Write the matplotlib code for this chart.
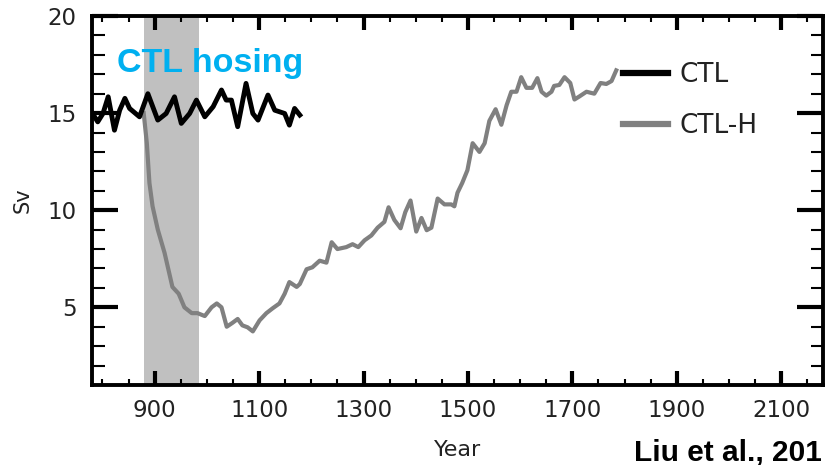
import matplotlib.pyplot as plt
from matplotlib.ticker import MultipleLocator

# control run, AMOC strength (Sv)
ctl_years = [781, 791, 801, 811, 823, 833, 843, 852, 871, 887, 906, 922, 938, 951,
             967, 980, 996, 1012, 1028, 1037, 1047, 1059, 1075, 1088, 1098, 1117,
             1130, 1139, 1149, 1158, 1168, 1178]
ctl_sv = [14.98, 14.55, 14.98, 15.84, 14.12, 15.15, 15.76, 15.24, 14.81, 16.0, 14.64,
          14.98, 15.84, 14.47, 14.98, 15.67, 14.81, 15.33, 16.19, 15.67, 15.67, 14.3,
          16.53, 14.98, 14.64, 15.93, 15.15, 15.07, 14.98, 14.38, 15.24, 14.9]

# hosing run
hosed_years = [879, 885, 890, 896, 906, 919, 934, 946, 957, 971, 982, 996, 1009, 1019,
               1028, 1038, 1049, 1059, 1068, 1078, 1088, 1101, 1114, 1126, 1139, 1149,
               1158, 1172, 1178, 1191, 1202, 1216, 1229, 1239, 1250, 1267, 1279, 1290,
               1302, 1315, 1327, 1340, 1348, 1359, 1371, 1380, 1390, 1401, 1411, 1421,
               1430, 1442, 1455, 1468, 1474, 1480, 1489, 1499, 1509, 1522, 1532, 1541,
               1553, 1564, 1574, 1583, 1593, 1602, 1612, 1623, 1633, 1641, 1650, 1660,
               1665, 1675, 1685, 1696, 1704, 1713, 1727, 1742, 1754, 1765, 1775, 1784]
hosed_sv = [15.0, 13.45, 11.4, 10.2, 9.0, 7.8, 6.05, 5.7, 5.0, 4.7, 4.7, 4.55, 5.0, 5.2,
            5.0, 4.0, 4.2, 4.4, 4.07, 3.97, 3.76, 4.33, 4.7, 4.95, 5.2, 5.7,
            6.3, 6.05, 6.2, 6.96, 7.06, 7.4, 7.3, 8.35, 8.0, 8.1, 8.25, 8.1,
            8.45, 8.7, 9.1, 9.4, 10.15, 9.5, 9.07, 9.9, 10.5, 8.9, 9.6, 8.97,
            9.1, 10.6, 10.3, 10.3, 10.2, 10.9, 11.4, 12.06, 13.45, 13.0, 13.45, 14.6,
            15.2, 14.4, 15.4, 16.1, 16.1, 16.85, 16.3, 16.3, 16.8, 16.1, 15.9, 16.1,
            16.4, 16.45, 16.85, 16.55, 15.7, 15.85, 16.1, 16.0, 16.55, 16.5, 16.65, 17.2]

hosing_start, hosing_end = 880, 984
xticks = [900, 1100, 1300, 1500, 1700, 1900, 2100]
yticks = [5, 10, 15, 20]

fig = plt.figure(figsize=(8.31, 4.65), dpi=100)
ax = fig.add_axes([92/831, 1 - 385/465, (823 - 92)/831, (385 - 16)/465])

ax.axvspan(hosing_start, hosing_end, color='#c0c0c0', lw=0, zorder=1)
ax.plot(hosed_years, hosed_sv, color='#808080', lw=3, label='CTL-H', zorder=2,
        solid_joinstyle='round')
ax.plot(ctl_years, ctl_sv, color='black', lw=3.5, label='CTL', zorder=3,
        solid_joinstyle='round')

ax.set_xlim(780, 2180)
ax.set_ylim(1, 20)
ax.set_xticks(xticks)
ax.set_yticks(yticks)
ax.xaxis.set_minor_locator(MultipleLocator(50))
ax.yaxis.set_minor_locator(MultipleLocator(1))

for s in ax.spines.values():
    s.set_linewidth(2.8)
ax.tick_params(axis='both', which='both', direction='in', top=True, right=True,
               colors='black', labelcolor='#222222', labelsize=16.5)
ax.tick_params(axis='x', which='major', length=10, width=3, pad=10)
ax.tick_params(axis='x', which='minor', length=4.5, width=1.5)
ax.tick_params(axis='y', which='major', length=19, width=3, pad=11)
ax.tick_params(axis='y', which='minor', length=9, width=1.5)

ax.set_xlabel('Year', fontsize=16, color='#222222', labelpad=13)
ax.set_ylabel('Sv', fontsize=15, color='#222222', labelpad=11)

h, l = ax.get_legend_handles_labels()
leg = ax.legend(h[::-1], l[::-1], loc='upper left', bbox_to_anchor=(623/831, 1 - 62/465),
                bbox_transform=fig.transFigure, frameon=False, fontsize=19,
                handlelength=1.7, handletextpad=0.45, labelspacing=0.95,
                borderpad=0, borderaxespad=0)
for t in leg.get_texts():
    t.set_color('#222222')
for ln in leg.get_lines():
    ln.set_linewidth(4.5)

fig.text(117/831, 1 - 72/465, 'CTL hosing', color='#00b0f0', fontsize=24.5,
         fontweight='bold', family='Liberation Sans', va='baseline')
fig.text(634/831, 1 - 460/465, 'Liu et al., 201', color='black', fontsize=21.5,
         fontweight='bold', family='Liberation Sans', va='baseline')

fig.savefig('out.png', dpi=100)
